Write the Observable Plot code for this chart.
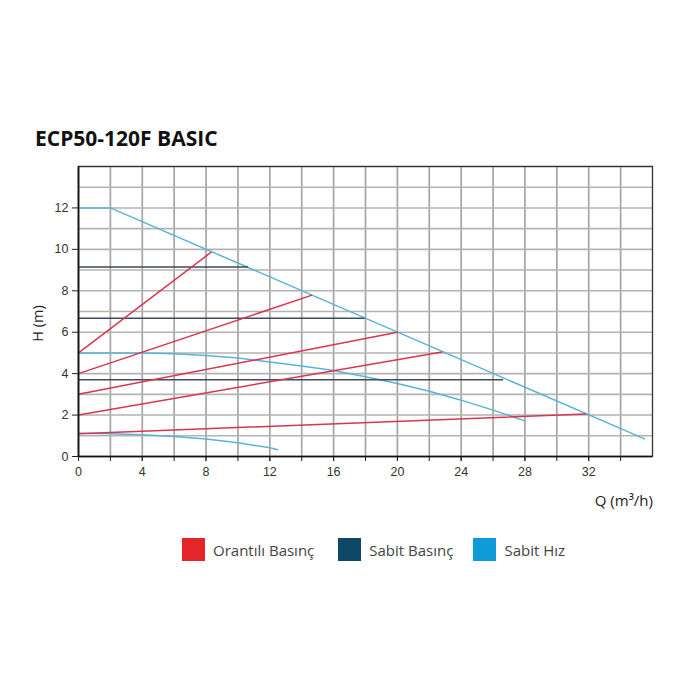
<!DOCTYPE html>
<html>
<head>
<meta charset="utf-8">
<script src="https://cdn.jsdelivr.net/npm/d3@7"></script>
<script src="https://cdn.jsdelivr.net/npm/@observablehq/plot@0.6"></script>
<style>
  html, body { margin: 0; padding: 0; background: #fff; }
  #wrap { position: relative; width: 700px; height: 700px; overflow: hidden; }
  #title { position: absolute; left: 35px; top: 124px; font-family: "Open Sans", sans-serif; font-weight: 700; font-size: 21px; color: #111; letter-spacing: 0px; }
  #chart { position: absolute; left: 0; top: 150px; }
  #ylab { position: absolute; left: 26px; top: 314px; transform: rotate(-90deg); transform-origin: center; font-family: "Open Sans", sans-serif; font-size: 14.5px; color: #222; width: 50px; text-align: center; margin-left: -14px; }
  #xlab { position: absolute; right: 47px; top: 490px; font-family: "Open Sans", sans-serif; font-size: 15px; color: #222; }
  #legend { position: absolute; left: 182px; top: 538px; display: flex; align-items: center; font-family: "Open Sans", sans-serif; font-size: 15px; color: #444; }
  .item { display: flex; align-items: center; margin-right: 21px; }
  .sw { width: 23px; height: 23px; margin-right: 8px; }
</style>
</head>
<body>
<div id="wrap">
  <div id="title">ECP50-120F BASIC</div>
  <div id="chart"></div>
  <div id="ylab">H (m)</div>
  <div id="xlab">Q (m³/h)</div>
  <div id="legend"></div>
</div>
<script>
// ---- Data ----
const seriesNames = ["Orantılı Basınç", "Sabit Basınç", "Sabit Hız"];
const xTickLabels = [0, 4, 8, 12, 16, 20, 24, 28, 32];
const yTickLabels = [0, 2, 4, 6, 8, 10, 12];

// Sabit Hız (constant speed) curves
const hiz1Q = [0, 2, 35.5];
const hiz1H = [12, 12, 0.85];
const hiz2Q = [0, 2, 4, 6, 8, 10, 12, 14, 16, 18, 20, 22, 24, 26, 28];
const hiz2H = [5, 5, 5, 4.96, 4.88, 4.75, 4.56, 4.37, 4.15, 3.85, 3.52, 3.15, 2.72, 2.24, 1.72];
const hiz3Q = [0, 2, 4, 6, 8, 10, 12, 12.5];
const hiz3H = [1.12, 1.1, 1.05, 0.97, 0.84, 0.66, 0.42, 0.33];

// Sabit Basınç (constant pressure) lines
const basinc1Q = [0, 10.6];
const basinc1H = [9.15, 9.15];
const basinc2Q = [0, 17.9];
const basinc2H = [6.68, 6.68];
const basinc3Q = [0, 26.6];
const basinc3H = [3.7, 3.7];

// Orantılı Basınç (proportional pressure) lines
const oran1Q = [0, 8.3];
const oran1H = [5, 9.85];
const oran2Q = [0, 14.6];
const oran2H = [4, 7.78];
const oran3Q = [0, 20];
const oran3H = [3, 6];
const oran4Q = [0, 22.8];
const oran4H = [2, 5.05];
const oran5Q = [0, 31.8];
const oran5H = [1.1, 2.05];

// ---- Build table ----
function rows(series, id, qs, hs) {
  return qs.map((q, i) => ({series, id, q, h: hs[i]}));
}
const data = [
  ...rows(seriesNames[2], "h1", hiz1Q, hiz1H),
  ...rows(seriesNames[2], "h2", hiz2Q, hiz2H),
  ...rows(seriesNames[2], "h3", hiz3Q, hiz3H),
  ...rows(seriesNames[1], "b1", basinc1Q, basinc1H),
  ...rows(seriesNames[1], "b2", basinc2Q, basinc2H),
  ...rows(seriesNames[1], "b3", basinc3Q, basinc3H),
  ...rows(seriesNames[0], "o1", oran1Q, oran1H),
  ...rows(seriesNames[0], "o2", oran2Q, oran2H),
  ...rows(seriesNames[0], "o3", oran3Q, oran3H),
  ...rows(seriesNames[0], "o4", oran4Q, oran4H),
  ...rows(seriesNames[0], "o5", oran5Q, oran5H)
];

const lineColors = ["#d8354f", "#3e4c5e", "#5ab4d6"];
const legendColors = ["#e42629", "#0f4767", "#0f9bd7"];

const xGrid = d3.range(0, 36, 2);
const yGrid = d3.range(0, 15, 1);

const chart = Plot.plot({
  width: 700,
  height: 360,
  marginTop: 16,
  marginLeft: 78,
  marginRight: 48,
  marginBottom: 54,
  style: {fontFamily: "'Liberation Sans', Arial, sans-serif", fontSize: "12px", color: "#333", background: "#fff"},
  x: {domain: [0, 36], label: null},
  y: {domain: [0, 14], label: null},
  color: {domain: seriesNames, range: lineColors},
  marks: [
    Plot.ruleX(xGrid, {stroke: "#a5a5a5", strokeWidth: 1.7}),
    Plot.ruleY(yGrid, {stroke: "#b3b3b3", strokeWidth: 1.6}),
    Plot.line(data, {x: "q", y: "h", z: "id", stroke: "series", strokeWidth: 1.5, curve: "linear"}),
    Plot.frame({stroke: "#333", strokeWidth: 1.3}),
    Plot.axisX(xGrid, {tickSize: 5, tickFormat: () => "", stroke: "#222"}),
    Plot.axisX(xTickLabels, {tickSize: 5, tickPadding: 6, stroke: "#222", fontSize: 12.5}),
    Plot.axisY(yTickLabels, {tickSize: 6, tickPadding: 4, stroke: "#222", fontSize: 12.5}),
    Plot.ruleX([0], {stroke: "#111", strokeWidth: 1.6}),
    Plot.ruleY([0], {stroke: "#111", strokeWidth: 1.6})
  ]
});
document.getElementById("chart").appendChild(chart);

// Legend
const leg = document.getElementById("legend");
seriesNames.forEach((name, i) => {
  const item = document.createElement("div");
  item.className = "item";
  item.style.marginRight = i === 0 ? "24px" : "20px";
  const sw = document.createElement("div");
  sw.className = "sw";
  sw.style.background = legendColors[i];
  const t = document.createElement("span");
  t.textContent = name;
  item.appendChild(sw);
  item.appendChild(t);
  leg.appendChild(item);
});
</script>
</body>
</html>
